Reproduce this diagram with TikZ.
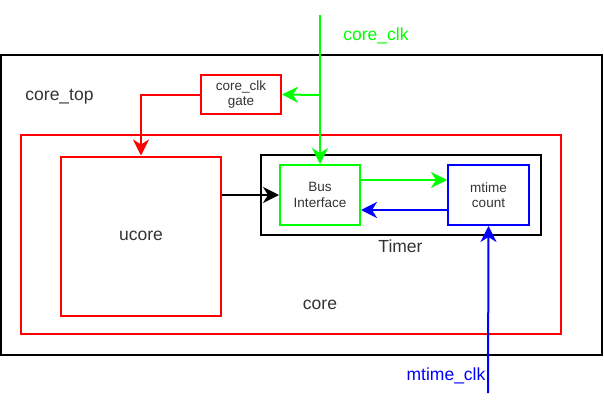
\documentclass[tikz,border=0pt]{standalone}
\usepackage{fontspec}
\setmainfont{Liberation Sans}
\usetikzlibrary{arrows.meta}
\definecolor{clkgreen}{RGB}{0,255,0}
\definecolor{clkblue}{RGB}{0,0,255}
\definecolor{boxred}{RGB}{255,0,0}
\definecolor{txtgray}{RGB}{51,51,51}
\tikzset{
  blockbox/.style={draw, rectangle, line width=2pt, inner sep=0pt, align=center,
    text=txtgray, font=\fontsize{13.5}{15.5}\selectfont},
  biglabel/.style={text=txtgray, font=\fontsize{17.5}{20}\selectfont, inner sep=0pt},
  wire/.style={line width=2pt, -{Stealth[length=16pt,width=16pt,inset=5pt]}}
}
\begin{document}
\begin{tikzpicture}[x=1pt,y=-1pt]
            \useasboundingbox (0,0) rectangle (604,412);
            % outer and inner blocks
            \node[blockbox, minimum width=601pt, minimum height=300pt] (coretop) at (301.5,205) {};
            \node[blockbox, draw=boxred, minimum width=540pt, minimum height=199pt] (core) at (291,234.5) {};
            \node[blockbox, draw=boxred, minimum width=160pt, minimum height=159pt, font=\fontsize{17.5}{20}\selectfont] (ucore) at (141,236) {ucore};
            \node[blockbox, minimum width=280pt, minimum height=80pt] (timer) at (401,195) {};
            \node[blockbox, draw=clkgreen, minimum width=80pt, minimum height=60pt] (bus) at (320,195) {Bus\\Interface};
            \node[blockbox, draw=clkblue, minimum width=81pt, minimum height=60pt] (mtime) at (488.5,195) {mtime\\count};
            \node[blockbox, draw=boxred, minimum width=80pt, minimum height=39pt] (gate) at (241,94.5) {core\_clk\\gate};
            
            % labels
            \node[biglabel] (coretoplbl) at (59.5,97) {core\_top};
            \node[biglabel] (corelbl) at (320,305) {core};
            \node[biglabel] (timerlbl) at (400.5,246) {Timer};
            \node[biglabel, text=clkgreen] (clklbl) at (376,36) {core\_clk};
            \node[biglabel, text=clkblue] (mclklbl) at (446,376) {mtime\_clk};
            
            \coordinate (clkin) at (320,15);
            \coordinate (split) at (320,95);
            \coordinate (mclkin) at (488,393);
            
            \draw[wire, clkgreen] (clkin) -- (bus.north);
            \draw[wire, clkgreen] (split) -- (gate.east);
            \draw[wire, boxred] (gate.west) -| (ucore.north);
            \draw[wire, black] (ucore.east |- bus.west) -- (bus.west);
            \draw[wire, clkgreen] ([yshift=15pt]bus.east) -- ([yshift=15pt]mtime.west);
            \draw[wire, clkblue] ([yshift=-15pt]mtime.west) -- ([yshift=-15pt]bus.east);
            \draw[wire, clkblue] (mclkin) -- (mtime.south);
        \end{tikzpicture}
\end{document}
